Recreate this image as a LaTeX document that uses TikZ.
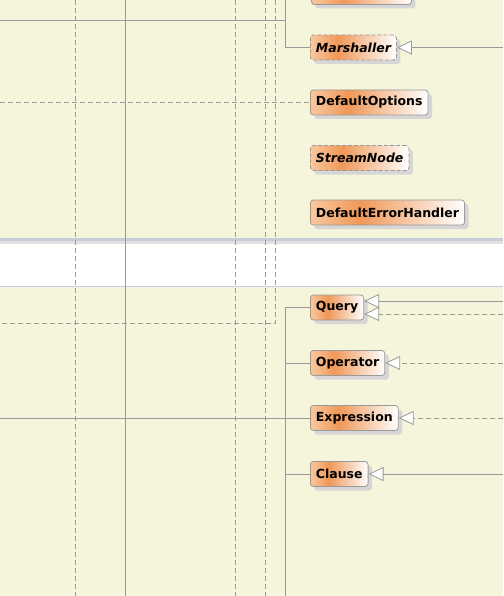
\documentclass[tikz,border=0pt]{standalone}
\usepackage{fontspec}
\setmainfont{DejaVu Sans}
\usetikzlibrary{arrows.meta,shadows}

\definecolor{classlight}{RGB}{248,200,160}
\definecolor{classdark}{RGB}{240,152,88}
\pgfdeclarehorizontalshading{classfill}{100bp}{color(0bp)=(classlight); color(25bp)=(classlight); color(41bp)=(classdark); color(75bp)=(white); color(100bp)=(white)}

\begin{document}
\begin{tikzpicture}[x=1pt,y=-1pt,
  classbox/.style={draw=linegray,line width=0.8pt,rounded corners=3pt,shading=classfill,
    drop shadow={shadow xshift=4pt,shadow yshift=-4pt,fill=shadowgray,opacity=1},
    minimum height=25pt,inner xsep=5.5pt,anchor=west,font=\fontsize{12.5}{14}\selectfont\bfseries},
  abstractbox/.style={classbox,dash pattern=on 4pt off 2pt,font=\fontsize{12.5}{14}\selectfont\bfseries\itshape},
  link/.style={draw=linegray,line width=0.8pt},
  dlink/.style={link,dash pattern=on 5pt off 3pt},
  gen/.style={-{Triangle[length=15pt,width=14pt,fill=white]}}]
% Define diagram colours
\definecolor{bgbeige}{RGB}{245,245,220}
\definecolor{linegray}{RGB}{153,153,153}
\definecolor{shadowgray}{RGB}{214,214,214}
\definecolor{bandblue}{RGB}{200,204,216}
\definecolor{bandgray}{RGB}{224,224,224}
\definecolor{bandline}{RGB}{196,204,222}

\useasboundingbox (0,0) rectangle (503,596);
\clip (0,0) rectangle (503,596);

% Draw package areas
\fill[bgbeige] (0,0) rectangle (503,238);
\fill[bandblue] (0,238) rectangle (503,241);
\fill[bandgray] (0,241) rectangle (503,244);
\fill[white] (0,244) rectangle (503,286);
\fill[bandline] (0,286) rectangle (503,287);
\fill[bgbeige] (0,287) rectangle (503,596);

% Draw lines passing through
\draw[dlink] (75.5,0) -- (75.5,596);
\draw[link] (125.5,0) -- (125.5,596);
\draw[dlink] (235.5,0) -- (235.5,596);
\draw[dlink] (265.5,0) -- (265.5,596);

% Draw classes
\node[classbox,minimum width=100pt] (topclass) at (311,-8) {};
\node[abstractbox] (marshaller) at (310,47.5) {Marshaller};
\node[classbox] (defaultoptions) at (310,102.5) {DefaultOptions};
\node[abstractbox] (streamnode) at (310,158) {StreamNode};
\node[classbox] (errorhandler) at (310,212.5) {DefaultErrorHandler};
\node[classbox] (query) at (310,307.5) {Query};
\node[classbox] (operator) at (310,363) {Operator};
\node[classbox] (expression) at (310,418) {Expression};
\node[classbox] (clause) at (310,474) {Clause};

% Add loose ends
\coordinate (mtop) at (285.5,0);
\coordinate (mleft) at (0,20.5);
\coordinate (oleft) at (0,102.5);
\coordinate (btop) at (275.5,0);
\coordinate (bleft) at (0,323.5);
\coordinate (qbot) at (285.5,596);
\coordinate (eleft) at (0,418);
\coordinate (mright) at (503,47.5);
\coordinate (qright) at (503,301);
\coordinate (qrightd) at (503,314);
\coordinate (oright) at (503,363);
\coordinate (eright) at (503,418);
\coordinate (cright) at (503,474);

% Draw connections
\draw[link] (mtop) |- (marshaller.west);
\draw[link] (mleft) -- (mleft -| mtop);
\draw[dlink] (oleft) -- (defaultoptions.west);
\draw[dlink] (btop) |- (bleft);
\draw[link] (qbot) |- (query.west);
\draw[link] (qbot) |- (operator.west);
\draw[link] (qbot) |- (clause.west);
\draw[link] (eleft) -- (expression.west);

% Draw generalizations
\draw[link,gen] (mright) -- (marshaller.east);
\draw[link,gen] (qright) -- (qright -| query.east);
\draw[dlink,gen] (qrightd) -- (qrightd -| query.east);
\draw[dlink,gen] (oright) -- (operator.east);
\draw[dlink,gen] (eright) -- (expression.east);
\draw[link,gen] (cright) -- (clause.east);
\end{tikzpicture}
\end{document}
